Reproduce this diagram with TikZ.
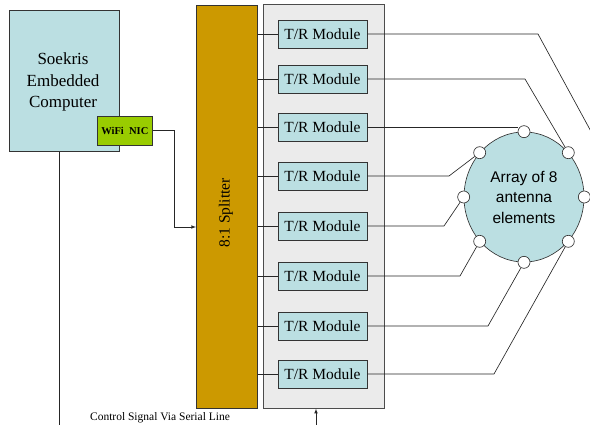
\documentclass[tikz,border=0pt]{standalone}
\usepackage{fontspec}
\setmainfont{Liberation Serif}
\newfontfamily\arialfont{Liberation Sans}
\usepackage{tikz}
\usetikzlibrary{shapes,arrows,positioning,calc}
\definecolor{paleblue}{HTML}{BBDFE2}
\definecolor{nicgreen}{HTML}{99CC00}
\definecolor{splitgold}{HTML}{CC9900}
\definecolor{boxgray}{HTML}{EBEBEB}

\begin{document}
\begin{tikzpicture}[
			x=1pt, y=-1pt,
			line width=0.65pt,
			>=latex,
			block/.style={rectangle, draw=black!80, inner sep=0pt, anchor=north west},
			trmod/.style={rectangle, draw=black!80, fill=paleblue, minimum width=89pt, minimum height=28pt, inner sep=0pt, font=\rmfamily\fontsize{15.5}{18}\selectfont},
			elem/.style={circle, draw=black!80, fill=white, minimum size=12pt, inner sep=0pt},
			wire/.style={draw=black!85}
			]
			\clip (0,0) rectangle (590,425);
			
			% Computer and NIC
			\node[block, fill=paleblue, minimum width=110pt, minimum height=141pt] (soekris) at (9,10) {};
			\node[align=center, font=\rmfamily\fontsize{17}{21.5}\selectfont] (soekristxt) at (63,82) {Soekris\\Embedded\\Computer};
			\node[block, fill=nicgreen, minimum width=55pt, minimum height=29pt, font=\rmfamily\fontsize{10.5}{12}\bfseries] (nic) at (97,116) {WiFi\ \ NIC};
			
			% Splitter and module rack
			\node[block, fill=splitgold, minimum width=61pt, minimum height=403pt] (split) at (196,5) {};
			\node[rotate=90, font=\rmfamily\fontsize{15.5}{18}\selectfont] (splittxt) at (226,213) {8:1 Splitter};
			\node[block, draw=black!70, fill=boxgray, minimum width=121pt, minimum height=404pt] (trbox) at (263,4) {};
			
			\foreach \i/\y in {1/34, 2/79, 3/127, 4/176, 5/226, 6/276, 7/326, 8/374} {
				\node[trmod] (m\i) at (322.5,\y) {T/R Module};
				\draw[wire] (split.east |- m\i) -- (m\i.west);
			}
			
			% Antenna array
			\node[ellipse, draw=black!80, fill=paleblue, minimum width=120pt, minimum height=130pt, inner sep=0pt] (array) at (524,197) {};
			\node[align=center, font=\arialfont\fontsize{15.5}{20.5}\selectfont] (arraytxt) at (array.center) {Array of 8\\antenna\\elements};
			\foreach \a in {0,45,...,315} {
				\node[elem] (a\a) at (array.\a) {};
			}
			
			% Module to element wiring
			\coordinate (bend1) at (538,34);
			\coordinate (offright) at (600,148);
			\draw[wire] (m1.east) -- (bend1) -- (offright);
			\draw[wire] (m2.east) -- (525,79) -- (a45);
			\draw[wire] (m3.east) -- (m3.east -| a90.west);
			\draw[wire] (m4.east) -- (449,176) -- (a135);
			\draw[wire] (m5.east) -- (444,226) -- (a180);
			\draw[wire] (m6.east) -- (460,276) -- (a225);
			\draw[wire] (m7.east) -- (488,326) -- (a270);
			\draw[wire] (m8.east) -- (494,374) -- (a315);
			
			% NIC feed into splitter
			\coordinate (nicbend) at (174,227);
			\draw[wire, ->] (nic.east) -| (nicbend) -- (nicbend -| split.west);
			
			% Control signal
			\coordinate (serial) at (59,430);
			\draw[wire] (soekris.south -| serial) -- (serial);
			\node[font=\rmfamily\fontsize{11.5}{13}\selectfont] (ctrltxt) at (160,418) {Control Signal Via Serial Line};
			\coordinate (ctrlin) at (316,430);
			\draw[wire, ->] (ctrlin) -- (ctrlin |- trbox.south);
			
		\end{tikzpicture}
\end{document}
